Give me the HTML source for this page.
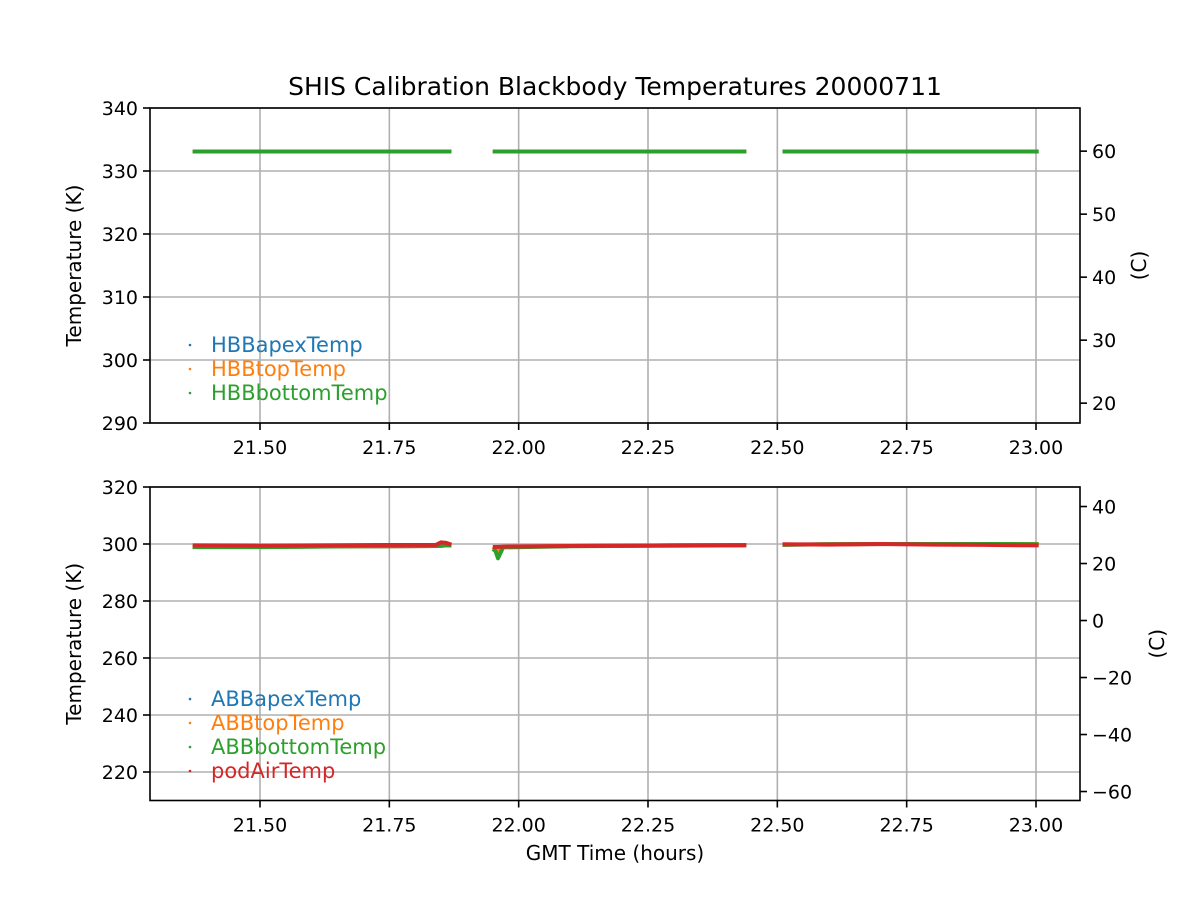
<!DOCTYPE html>
<html><head><meta charset="utf-8"><style>
body{margin:0;background:#fff}
svg{display:block;font-family:"DejaVu Sans","Liberation Sans",sans-serif}
</style></head><body>
<svg id="fig" width="1200" height="900">
<rect width="1200" height="900" fill="#fff"/>
<text x="615" y="95" text-anchor="middle" font-size="25">SHIS Calibration Blackbody Temperatures 20000711</text>
<g id="top"></g>
<g id="bot"></g>
<text x="615" y="860" text-anchor="middle" font-size="20">GMT Time (hours)</text>
</svg>
<script>
// shared x data
const xTicks = [21.5, 21.75, 22.0, 22.25, 22.5, 22.75, 23.0];
const xTickLabels = ["21.50","21.75","22.00","22.25","22.50","22.75","23.00"];
// segment times (null = gap)
const times = [21.37, 21.5, 21.7, 21.84, 21.85, 21.86, 21.87, null, 21.95, 21.955, 21.96, 21.97, 22.1, 22.3, 22.44, null, 22.51, 22.6, 22.7, 22.8, 22.9, 23.005];
// top panel
const HBBapex  = [333.1,333.1,333.1,333.1,333.1,333.1,333.1,null,333.1,333.1,333.1,333.1,333.1,333.1,333.1,null,333.1,333.1,333.1,333.1,333.1,333.1];
const HBBtop   = [333.1,333.1,333.1,333.1,333.1,333.1,333.1,null,333.1,333.1,333.1,333.1,333.1,333.1,333.1,null,333.1,333.1,333.1,333.1,333.1,333.1];
const HBBbottom= [333.1,333.1,333.1,333.1,333.1,333.1,333.1,null,333.1,333.1,333.1,333.1,333.1,333.1,333.1,null,333.1,333.1,333.1,333.1,333.1,333.1];
// bottom panel
const ABBapex  = [299.0,299.0,299.2,299.3,299.4,299.5,299.5,null,299.0,298.5,297.0,299.0,299.3,299.5,299.6,null,299.8,299.9,300.0,300.0,300.0,300.0];
const ABBtop   = [299.0,299.0,299.2,299.3,299.4,299.5,299.5,null,299.0,298.5,297.0,299.0,299.3,299.5,299.6,null,299.8,299.9,300.0,300.0,300.0,300.0];
const ABBbottom= [298.9,298.9,299.2,299.3,299.4,299.5,299.5,null,298.2,297.6,295.0,298.8,299.2,299.4,299.5,null,299.7,299.9,300.0,300.0,300.0,299.9];
const podAir   = [299.5,299.4,299.6,299.7,300.6,300.4,299.8,null,299.0,299.0,299.0,299.1,299.3,299.5,299.6,null,299.9,299.8,300.0,299.8,299.7,299.5];

const X0=150,X1=1080, XMIN=21.5-110/517.33, XMAX=23+44/517.33;
const sx=t=>X0+(t-XMIN)/(XMAX-XMIN)*(X1-X0);
const NS="http://www.w3.org/2000/svg";
function el(p,tag,a){const e=document.createElementNS(NS,tag);for(const k in a)e.setAttribute(k,a[k]);p.appendChild(e);return e;}

function panel(g,y0,y1,kmin,kmax,yTicks,cTicks,series,colors,names){
  const sy=v=>y1-(v-kmin)/(kmax-kmin)*(y1-y0);
  xTicks.forEach(t=>{const l=el(g,'line',{x1:sx(t),x2:sx(t),y1:y0,y2:y1,stroke:'#b0b0b0','stroke-width':1.6});
    });
  yTicks.forEach(v=>{const l=el(g,'line',{x1:X0,x2:X1,y1:sy(v),y2:sy(v),stroke:'#b0b0b0','stroke-width':1.6});
    });
  series.forEach((s,i)=>{
    let d='',pen=false;
    times.forEach((t,j)=>{if(t===null||s[j]===null){pen=false;return;}d+=(pen?'L':'M')+sx(t).toFixed(1)+' '+sy(s[j]).toFixed(1);pen=true;});
    const p=el(g,'path',{d:d,fill:'none',stroke:colors[i],'stroke-width':4,'stroke-linejoin':'round'});
    
    
  });
  const f=el(g,'rect',{x:X0,y:y0,width:X1-X0,height:y1-y0,fill:'none',stroke:'#000','stroke-width':1.6});
  
  xTicks.forEach((t,i)=>{el(g,'line',{x1:sx(t),x2:sx(t),y1:y1,y2:y1+7,stroke:'#000','stroke-width':1.6});
    const tx=el(g,'text',{x:sx(t),y:y1+31,'text-anchor':'middle','font-size':19});tx.textContent=xTickLabels[i];
    });
  yTicks.forEach(v=>{el(g,'line',{x1:X0-7,x2:X0,y1:sy(v),y2:sy(v),stroke:'#000','stroke-width':1.6});
    const tx=el(g,'text',{x:X0-12,y:sy(v)+7,'text-anchor':'end','font-size':19});tx.textContent=v;
    });
  cTicks.forEach(c=>{const y=sy(c+273.15);el(g,'line',{x1:X1,x2:X1+7,y1:y,y2:y,stroke:'#000','stroke-width':1.6});
    const tx=el(g,'text',{x:X1+12,y:y+7,'font-size':19});tx.textContent=c<0?'\u2212'+(-c):c;
    });
  const yl=el(g,'text',{transform:`translate(81,${(y0+y1)/2}) rotate(-90)`,'text-anchor':'middle','font-size':20});yl.textContent='Temperature (K)';
  
  const cl=el(g,'text',{transform:`translate(${names.length>3?1164:1146},${(y0+y1)/2}) rotate(-90)`,'text-anchor':'middle','font-size':20});cl.textContent='(C)';
  
  const ly0=names.length>3?699:345;
  names.forEach((n,i)=>{const y=ly0+i*24;
    el(g,'circle',{cx:190,cy:y,r:1.3,fill:colors[i]});
    const tx=el(g,'text',{x:211,y:y+7,'font-size':21,fill:colors[i]});tx.textContent=n;
    });
}
panel(document.getElementById('top'),108,423,290,340,[290,300,310,320,330,340],[20,30,40,50,60],
  [HBBapex,HBBtop,HBBbottom],['#1f77b4','#ff7f0e','#2ca02c'],['HBBapexTemp','HBBtopTemp','HBBbottomTemp']);
panel(document.getElementById('bot'),487,800.5,210,320,[220,240,260,280,300,320],[-60,-40,-20,0,20,40],
  [ABBapex,ABBtop,ABBbottom,podAir],['#1f77b4','#ff7f0e','#2ca02c','#d62728'],['ABBapexTemp','ABBtopTemp','ABBbottomTemp','podAirTemp']);
</script>
</body></html>
